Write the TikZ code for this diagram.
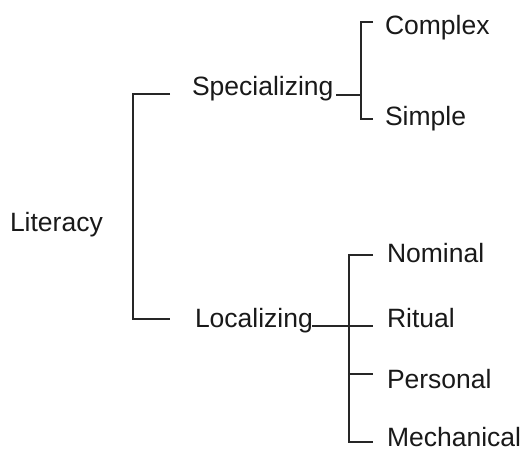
\documentclass[tikz,border=0pt]{standalone}
\usepackage{fontspec}
\setmainfont{Liberation Sans}
\begin{document}
\begin{tikzpicture}[x=1pt,y=-1pt,
  lbl/.style={anchor=base west,inner sep=0pt,outer sep=0pt,
    font=\fontsize{26.5}{31}\selectfont,text=black!90},
  brk/.style={draw=black!85,line width=1.4pt,line cap=butt,line join=miter}]
\useasboundingbox (0,0) rectangle (524,451);

% labels
\node[lbl] (lit)  at (10,231)  {Literacy};
\node[lbl] (spec) at (192,95)  {Specializing};
\node[lbl] (loc)  at (195,327) {Localizing};
\node[lbl] (cpx)  at (385,34)  {Complex};
\node[lbl] (smp)  at (385,125) {Simple};
\node[lbl] (nom)  at (387,262) {Nominal};
\node[lbl] (rit)  at (387,327) {Ritual};
\node[lbl] (per)  at (387,388) {Personal};
\node[lbl] (mec)  at (387,446) {Mechanical};

% bracket joining the two branches of Literacy
\coordinate (a1) at (170,94);
\coordinate (a2) at (170,319);
\draw[brk] (a1) -| (133,319) -- (a2);

% bracket under Specializing
\coordinate (s0) at (336,95);
\coordinate (s1) at (373,22);
\coordinate (s2) at (373,119);
\draw[brk] (s1) -| (361,119) -- (s2);
\draw[brk] (s0) -- (361,95);

% bracket under Localizing
\coordinate (l0) at (312,326);
\coordinate (n1) at (373,255);
\coordinate (n2) at (373,326);
\coordinate (n3) at (373,374);
\coordinate (n4) at (373,442);
\draw[brk] (n1) -| (349,442) -- (n4);
\draw[brk] (l0) -- (n2);
\draw[brk] (349,374) -- (n3);
\end{tikzpicture}
\end{document}
